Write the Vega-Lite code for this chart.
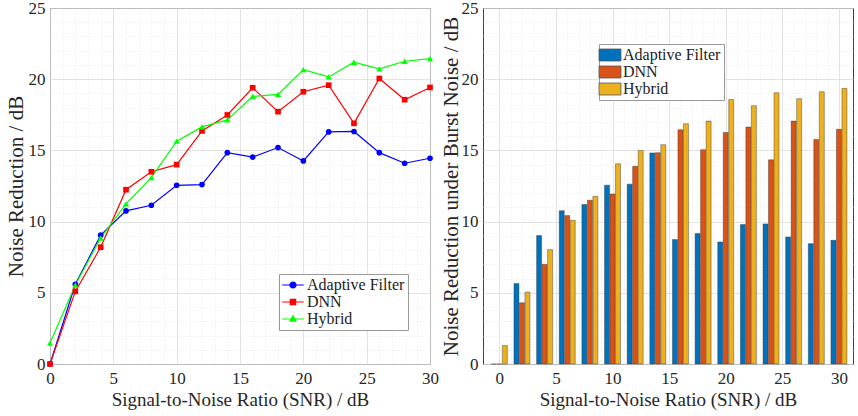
{
  "$schema": "https://vega.github.io/schema/vega-lite/v6.json",
  "background": "white",
  "padding": {"left": 4, "top": -2, "right": 0, "bottom": 0},
  "spacing": 0,
  "datasets": {
    "lines": [
      {"snr": 0, "method": "Adaptive Filter", "nr": 0},
      {"snr": 2, "method": "Adaptive Filter", "nr": 5.6},
      {"snr": 4, "method": "Adaptive Filter", "nr": 9.05},
      {"snr": 6, "method": "Adaptive Filter", "nr": 10.75},
      {"snr": 8, "method": "Adaptive Filter", "nr": 11.15},
      {"snr": 10, "method": "Adaptive Filter", "nr": 12.55},
      {"snr": 12, "method": "Adaptive Filter", "nr": 12.6},
      {"snr": 14, "method": "Adaptive Filter", "nr": 14.84},
      {"snr": 16, "method": "Adaptive Filter", "nr": 14.53},
      {"snr": 18, "method": "Adaptive Filter", "nr": 15.2},
      {"snr": 20, "method": "Adaptive Filter", "nr": 14.26},
      {"snr": 22, "method": "Adaptive Filter", "nr": 16.3},
      {"snr": 24, "method": "Adaptive Filter", "nr": 16.33},
      {"snr": 26, "method": "Adaptive Filter", "nr": 14.84},
      {"snr": 28, "method": "Adaptive Filter", "nr": 14.1},
      {"snr": 30, "method": "Adaptive Filter", "nr": 14.45},
      {"snr": 0, "method": "DNN", "nr": 0},
      {"snr": 2, "method": "DNN", "nr": 5.1},
      {"snr": 4, "method": "DNN", "nr": 8.2},
      {"snr": 6, "method": "DNN", "nr": 12.24},
      {"snr": 8, "method": "DNN", "nr": 13.5},
      {"snr": 10, "method": "DNN", "nr": 14.0},
      {"snr": 12, "method": "DNN", "nr": 16.37},
      {"snr": 14, "method": "DNN", "nr": 17.49},
      {"snr": 16, "method": "DNN", "nr": 19.4},
      {"snr": 18, "method": "DNN", "nr": 17.72},
      {"snr": 20, "method": "DNN", "nr": 19.12},
      {"snr": 22, "method": "DNN", "nr": 19.58},
      {"snr": 24, "method": "DNN", "nr": 16.9},
      {"snr": 26, "method": "DNN", "nr": 20.05},
      {"snr": 28, "method": "DNN", "nr": 18.56},
      {"snr": 30, "method": "DNN", "nr": 19.42},
      {"snr": 0, "method": "Hybrid", "nr": 1.47},
      {"snr": 2, "method": "Hybrid", "nr": 5.55},
      {"snr": 4, "method": "Hybrid", "nr": 8.85},
      {"snr": 6, "method": "Hybrid", "nr": 11.25},
      {"snr": 8, "method": "Hybrid", "nr": 13.09},
      {"snr": 10, "method": "Hybrid", "nr": 15.65},
      {"snr": 12, "method": "Hybrid", "nr": 16.65},
      {"snr": 14, "method": "Hybrid", "nr": 17.14},
      {"snr": 16, "method": "Hybrid", "nr": 18.79},
      {"snr": 18, "method": "Hybrid", "nr": 18.93},
      {"snr": 20, "method": "Hybrid", "nr": 20.67},
      {"snr": 22, "method": "Hybrid", "nr": 20.16},
      {"snr": 24, "method": "Hybrid", "nr": 21.19},
      {"snr": 26, "method": "Hybrid", "nr": 20.72},
      {"snr": 28, "method": "Hybrid", "nr": 21.26},
      {"snr": 30, "method": "Hybrid", "nr": 21.45}
    ],
    "bars": [
      {"snr": 0, "method2": "Adaptive Filter", "nr": 0},
      {"snr": 2, "method2": "Adaptive Filter", "nr": 5.65},
      {"snr": 4, "method2": "Adaptive Filter", "nr": 9.02},
      {"snr": 6, "method2": "Adaptive Filter", "nr": 10.77},
      {"snr": 8, "method2": "Adaptive Filter", "nr": 11.2},
      {"snr": 10, "method2": "Adaptive Filter", "nr": 12.56},
      {"snr": 12, "method2": "Adaptive Filter", "nr": 12.63},
      {"snr": 14, "method2": "Adaptive Filter", "nr": 14.82},
      {"snr": 16, "method2": "Adaptive Filter", "nr": 8.74},
      {"snr": 18, "method2": "Adaptive Filter", "nr": 9.16},
      {"snr": 20, "method2": "Adaptive Filter", "nr": 8.57},
      {"snr": 22, "method2": "Adaptive Filter", "nr": 9.79},
      {"snr": 24, "method2": "Adaptive Filter", "nr": 9.84},
      {"snr": 26, "method2": "Adaptive Filter", "nr": 8.92},
      {"snr": 28, "method2": "Adaptive Filter", "nr": 8.45},
      {"snr": 30, "method2": "Adaptive Filter", "nr": 8.69},
      {"snr": 0, "method2": "DNN", "nr": 0},
      {"snr": 2, "method2": "DNN", "nr": 4.3},
      {"snr": 4, "method2": "DNN", "nr": 7.0},
      {"snr": 6, "method2": "DNN", "nr": 10.42},
      {"snr": 8, "method2": "DNN", "nr": 11.5},
      {"snr": 10, "method2": "DNN", "nr": 11.94},
      {"snr": 12, "method2": "DNN", "nr": 13.88},
      {"snr": 14, "method2": "DNN", "nr": 14.84},
      {"snr": 16, "method2": "DNN", "nr": 16.45},
      {"snr": 18, "method2": "DNN", "nr": 15.05},
      {"snr": 20, "method2": "DNN", "nr": 16.26},
      {"snr": 22, "method2": "DNN", "nr": 16.64},
      {"snr": 24, "method2": "DNN", "nr": 14.34},
      {"snr": 26, "method2": "DNN", "nr": 17.06},
      {"snr": 28, "method2": "DNN", "nr": 15.77},
      {"snr": 30, "method2": "DNN", "nr": 16.48},
      {"snr": 0, "method2": "Hybrid", "nr": 1.3},
      {"snr": 2, "method2": "Hybrid", "nr": 5.05},
      {"snr": 4, "method2": "Hybrid", "nr": 8.03},
      {"snr": 6, "method2": "Hybrid", "nr": 10.09},
      {"snr": 8, "method2": "Hybrid", "nr": 11.78},
      {"snr": 10, "method2": "Hybrid", "nr": 14.06},
      {"snr": 12, "method2": "Hybrid", "nr": 15.0},
      {"snr": 14, "method2": "Hybrid", "nr": 15.4},
      {"snr": 16, "method2": "Hybrid", "nr": 16.87},
      {"snr": 18, "method2": "Hybrid", "nr": 17.06},
      {"snr": 20, "method2": "Hybrid", "nr": 18.58},
      {"snr": 22, "method2": "Hybrid", "nr": 18.14},
      {"snr": 24, "method2": "Hybrid", "nr": 19.05},
      {"snr": 26, "method2": "Hybrid", "nr": 18.63},
      {"snr": 28, "method2": "Hybrid", "nr": 19.12},
      {"snr": 30, "method2": "Hybrid", "nr": 19.36}
    ]
  },
  "hconcat": [
    {
      "width": 380,
      "height": 356,
      "encoding": {
        "x": {
          "field": "snr", "type": "quantitative",
          "scale": {"domain": [0, 30], "nice": false},
          "title": "Signal-to-Noise Ratio (SNR) / dB",
          "axis": {
            "values": [0,1,2,3,4,5,6,7,8,9,10,11,12,13,14,15,16,17,18,19,20,21,22,23,24,25,26,27,28,29,30],
            "labelExpr": "datum.value % 5 === 0 ? datum.label : ''",
            "gridDash": {"condition": {"test": "datum.value % 5 === 0", "value": []}, "value": [1, 2]},
            "gridColor": {"condition": {"test": "datum.value % 5 === 0", "value": "#dcdcdc"}, "value": "#e6e6e6"},
            "labelFlush": false, "labelOverlap": false, "labelFont": "Liberation Serif",
            "labelPadding": 6, "titlePadding": 4, "titleFontSize": 19
          }
        },
        "y": {
          "field": "nr", "type": "quantitative",
          "scale": {"domain": [0, 25], "nice": false},
          "title": "Noise Reduction / dB",
          "axis": {
            "values": [0,1,2,3,4,5,6,7,8,9,10,11,12,13,14,15,16,17,18,19,20,21,22,23,24,25],
            "labelExpr": "datum.value % 5 === 0 ? datum.label : ''",
            "gridDash": {"condition": {"test": "datum.value % 5 === 0", "value": []}, "value": [1, 2]},
            "gridColor": {"condition": {"test": "datum.value % 5 === 0", "value": "#dcdcdc"}, "value": "#e6e6e6"},
            "labelFlush": false, "labelOverlap": false, "labelFont": "Liberation Serif",
            "labelPadding": 5, "titlePadding": 2, "titleFontSize": 21
          }
        },
        "color": {
          "field": "method", "type": "nominal",
          "scale": {"domain": ["Adaptive Filter", "DNN", "Hybrid"], "range": ["#0000ff", "#ff0000", "#00ff00"]},
          "legend": {
            "orient": "none", "legendX": 229, "legendY": 266,
            "title": null,
            "strokeColor": "#999", "fillColor": "white", "padding": 3,
            "labelFont": "Liberation Serif", "labelFontSize": 16, "labelColor": "#222",
            "symbolSize": 144, "symbolOffset": 3, "labelOffset": 6, "rowPadding": 1,
            "encode": {
              "symbols": {
                "update": {
                  "shape": {"signal": "datum.value === 'DNN' ? 'M-1.8,0H1.8M-0.45,-0.45H0.45V0.45H-0.45Z' : datum.value === 'Hybrid' ? 'M-1.8,0H1.8M0,-0.55L0.5,0.35H-0.5Z' : 'M-1.8,0H1.8M0.5,0A0.5,0.5,0,1,1,-0.5,0A0.5,0.5,0,1,1,0.5,0Z'"},
                  "fill": {"signal": "datum.value === 'DNN' ? '#ff0000' : datum.value === 'Hybrid' ? '#00ff00' : '#0000ff'"},
                  "stroke": {"signal": "datum.value === 'DNN' ? '#ff0000' : datum.value === 'Hybrid' ? '#00ff00' : '#0000ff'"},
                  "strokeWidth": {"value": 1.2},
                  "opacity": {"value": 1},
                  "fillOpacity": {"value": 1},
                  "strokeOpacity": {"value": 1}
                }
              }
            }
          }
        }
      },
      "layer": [
        {
          "data": {"name": "lines"},
          "mark": {"type": "line", "strokeWidth": 1.2}
        },
        {
          "data": {"name": "lines"},
          "transform": [{"filter": "datum.method === 'Adaptive Filter'"}],
          "mark": {"type": "point", "shape": "circle", "filled": true, "opacity": 1, "size": 32}
        },
        {
          "data": {"name": "lines"},
          "transform": [{"filter": "datum.method === 'DNN'"}],
          "mark": {"type": "point", "shape": "square", "filled": true, "opacity": 1, "size": 32}
        },
        {
          "data": {"name": "lines"},
          "transform": [{"filter": "datum.method === 'Hybrid'"}],
          "mark": {"type": "point", "shape": "triangle-up", "filled": true, "opacity": 1, "size": 38}
        },
        {
          "data": {"values": [{"label": "(a)"}]},
          "mark": {"type": "text", "font": "Liberation Serif", "fontWeight": "bold", "fontSize": 17, "align": "left", "baseline": "middle"},
          "encoding": {
            "x": {"datum": 0.6, "type": "quantitative"},
            "y": {"datum": 23.67, "type": "quantitative"},
            "text": {"field": "label"},
            "color": {"value": "#111"}
          }
        }
      ]
    },
    {
      "width": 370,
      "height": 356,
      "encoding": {
        "x": {
          "field": "snr", "type": "quantitative",
          "scale": {"domain": [-1, 30.8], "nice": false, "zero": false},
          "title": "Signal-to-Noise Ratio (SNR) / dB",
          "axis": {
            "values": [0,1,2,3,4,5,6,7,8,9,10,11,12,13,14,15,16,17,18,19,20,21,22,23,24,25,26,27,28,29,30],
            "labelExpr": "datum.value % 5 === 0 ? datum.label : ''",
            "gridDash": {"condition": {"test": "datum.value % 5 === 0", "value": []}, "value": [1, 2]},
            "gridColor": {"condition": {"test": "datum.value % 5 === 0", "value": "#dcdcdc"}, "value": "#e6e6e6"},
            "labelFlush": false, "labelOverlap": false, "labelFont": "Liberation Serif",
            "labelPadding": 6, "titlePadding": 4, "titleFontSize": 19
          }
        },
        "y": {
          "field": "nr", "type": "quantitative", "stack": null,
          "scale": {"domain": [0, 25], "nice": false},
          "title": "Noise Reduction under Burst Noise / dB",
          "axis": {
            "values": [0,1,2,3,4,5,6,7,8,9,10,11,12,13,14,15,16,17,18,19,20,21,22,23,24,25],
            "labelExpr": "datum.value % 5 === 0 ? datum.label : ''",
            "gridDash": {"condition": {"test": "datum.value % 5 === 0", "value": []}, "value": [1, 2]},
            "gridColor": {"condition": {"test": "datum.value % 5 === 0", "value": "#dcdcdc"}, "value": "#e6e6e6"},
            "labelFlush": false, "labelOverlap": false, "labelFont": "Liberation Serif",
            "labelPadding": 5, "titlePadding": 0, "titleFontSize": 21
          }
        },
        "color": {
          "field": "method2", "type": "nominal",
          "scale": {"domain": ["Adaptive Filter", "DNN", "Hybrid"], "range": ["#0072bd", "#d95319", "#edb120"]},
          "legend": {
            "orient": "none", "legendX": 116, "legendY": 36,
            "title": null,
            "strokeColor": "#999", "fillColor": "white", "padding": 3,
            "labelFont": "Liberation Serif", "labelFontSize": 16, "labelColor": "#222",
            "symbolType": "M-1.83,-1H1.83V1H-1.83Z",
            "symbolSize": 144, "symbolOffset": 0, "labelOffset": 5, "rowPadding": 1,
            "symbolStrokeColor": "#555", "symbolStrokeWidth": 0.8, "symbolOpacity": 1
          }
        }
      },
      "layer": [
        {
          "data": {"name": "bars"},
          "transform": [{"filter": "datum.method2 === 'Adaptive Filter'"}],
          "mark": {"type": "bar", "width": 5, "xOffset": -5.5, "stroke": "#333", "strokeWidth": 0.6, "strokeOpacity": 0.7}
        },
        {
          "data": {"name": "bars"},
          "transform": [{"filter": "datum.method2 === 'DNN'"}],
          "mark": {"type": "bar", "width": 5, "xOffset": 0, "stroke": "#333", "strokeWidth": 0.6, "strokeOpacity": 0.7}
        },
        {
          "data": {"name": "bars"},
          "transform": [{"filter": "datum.method2 === 'Hybrid'"}],
          "mark": {"type": "bar", "width": 5, "xOffset": 5.5, "stroke": "#333", "strokeWidth": 0.6, "strokeOpacity": 0.7}
        },
        {
          "data": {"values": [{"label": "(b)"}]},
          "mark": {"type": "text", "font": "Liberation Serif", "fontWeight": "bold", "fontSize": 17, "align": "left", "baseline": "middle"},
          "encoding": {
            "x": {"datum": -0.4, "type": "quantitative"},
            "y": {"datum": 23.67, "type": "quantitative"},
            "text": {"field": "label"},
            "color": {"value": "#111"}
          }
        }
      ]
    }
  ],
  "resolve": {
    "scale": {"color": "independent", "x": "independent", "y": "independent"},
    "legend": {"color": "independent"}
  },
  "config": {
    "font": "Liberation Serif",
    "view": {"stroke": "#404040", "strokeWidth": 1},
    "axis": {
      "labelFont": "Liberation Serif", "labelFontSize": 17, "labelColor": "#262626",
      "titleFont": "Liberation Serif", "titleFontWeight": "normal", "titleColor": "#262626",
      "domain": false, "ticks": false, "grid": true, "gridWidth": 0.8
    }
  }
}
